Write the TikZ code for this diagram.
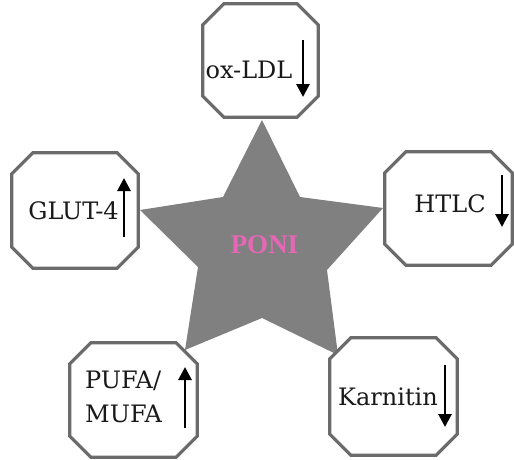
\documentclass[tikz,border=0pt]{standalone}
\usepackage{fontspec}
\setmainfont{DejaVu Serif}
\newfontfamily\poniFont{Liberation Serif}
\usetikzlibrary{calc,arrows.meta}
\definecolor{stargray}{HTML}{808080}
\definecolor{boxgray}{HTML}{6B6B6B}
\definecolor{ponipink}{HTML}{E667B6}
\tikzset{
  boxnode/.style={draw=none, inner sep=0pt, minimum width=#1},
  octline/.style={draw=boxgray, line width=3.3pt, fill=white, line join=miter},
  lbl/.style={font=\fontsize{24}{28}\selectfont, inner sep=0pt, anchor=base, text=black!90},
  updown/.style={line width=2.8pt, -{Triangle[width=13pt,length=13pt]}},
}
\newcommand\octbox[6]{% name, cx, cy, w, h, chamfer
  \node[boxnode=#4, minimum height=#5] (#1) at (#2,#3) {};
  \draw[octline]
    ($(#1.north west)+(#6,0)$) -- ($(#1.north east)+(-#6,0)$) --
    ($(#1.north east)+(0,#6)$) -- ($(#1.south east)+(0,-#6)$) --
    ($(#1.south east)+(-#6,0)$) -- ($(#1.south west)+(#6,0)$) --
    ($(#1.south west)+(0,-#6)$) -- ($(#1.north west)+(0,#6)$) -- cycle;
}
\begin{document}
\begin{tikzpicture}[x=1pt,y=-1pt]
\useasboundingbox (0,0) rectangle (514,460);
% star
\fill[stargray] (262,120) -- (300,197) -- (383,208) -- (327,270) -- (338,355)
  -- (262,318) -- (185,350) -- (198,267) -- (140,210) -- (223,197) -- cycle;
\node[font=\poniFont\bfseries\fontsize{27}{30}\selectfont, text=ponipink, inner sep=0pt, anchor=base] (poni) at (264.5,253) {PONI};
% boxes
\octbox{ox}{260.5}{60.5}{115}{113}{21}
\octbox{glut}{75}{210.5}{126}{115}{21}
\octbox{htlc}{448.5}{208.5}{127}{113}{21}
\octbox{pufa}{133.5}{400}{127}{114}{21}
\octbox{karn}{393.5}{396.5}{127}{117}{21}
% labels
\node[lbl] (oxt) at (249,78) {ox-LDL};
\node[lbl] (glutt) at (73.5,219) {GLUT-4};
\node[lbl] (htlct) at (450,212) {HTLC};
\node[lbl, anchor=base west] (pufat1) at (85,388) {PUFA/};
\node[lbl, anchor=base west] (pufat2) at (85,422) {MUFA};
\node[lbl] (karnt) at (388,405) {Karnitin};
% arrows
\coordinate (oxa1) at (303,40); \coordinate (oxa2) at (303,97);
\coordinate (gla1) at (124,237); \coordinate (gla2) at (124,178);
\coordinate (hta1) at (502,175); \coordinate (hta2) at (502,227);
\coordinate (pua1) at (185,428); \coordinate (pua2) at (185,367);
\coordinate (kaa1) at (445,365); \coordinate (kaa2) at (445,427);
\draw[updown] (oxa1) -- (oxa2);
\draw[updown] (gla1) -- (gla2);
\draw[updown] (hta1) -- (hta2);
\draw[updown] (pua1) -- (pua2);
\draw[updown] (kaa1) -- (kaa2);
\end{tikzpicture}
\end{document}
